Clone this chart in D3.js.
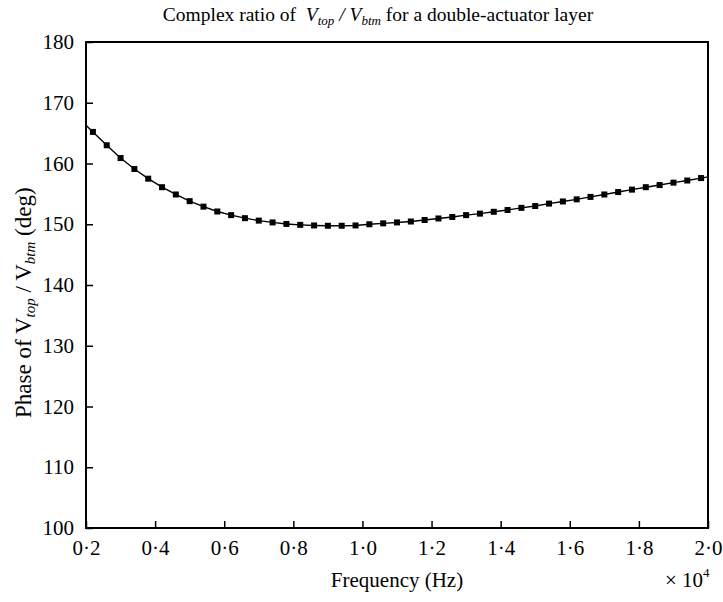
<!DOCTYPE html>
<html>
<head>
<meta charset="utf-8">
<script src="https://cdn.jsdelivr.net/npm/d3@7"></script>
<style>
  html, body { margin: 0; padding: 0; background: #fff; }
  svg text { font-family: "Liberation Serif", "Times New Roman", serif; fill: #000; }
</style>
</head>
<body>
<svg id="chart" width="723" height="602"></svg>
<script>
// Sampled frequencies (Hz) and the phase of Vtop/Vbtm (deg) at each marker
const frequencies = [2200, 2600, 3000, 3400, 3800, 4200, 4600, 5000, 5400, 5800,
  6200, 6600, 7000, 7400, 7800, 8200, 8600, 9000, 9400, 9800,
  10200, 10600, 11000, 11400, 11800, 12200, 12600, 13000, 13400, 13800,
  14200, 14600, 15000, 15400, 15800, 16200, 16600, 17000, 17400, 17800,
  18200, 18600, 19000, 19400, 19800];
const phases = [165.2, 163.0, 160.9, 159.1, 157.5, 156.1, 154.9, 153.8, 152.9, 152.1,
  151.5, 151.0, 150.6, 150.3, 150.05, 149.9, 149.8, 149.75, 149.75, 149.8,
  150.0, 150.15, 150.3, 150.45, 150.7, 150.95, 151.2, 151.5, 151.75, 152.05,
  152.35, 152.7, 153.0, 153.4, 153.75, 154.1, 154.5, 154.9, 155.3, 155.7,
  156.1, 156.45, 156.85, 157.2, 157.6];
// Curve values at the two ends of the frequency range
const edgeFrequencies = [2000, 20000];
const edgePhases = [166.3, 157.8];

const xTicks = [2000, 4000, 6000, 8000, 10000, 12000, 14000, 16000, 18000, 20000];
const yTicks = [100, 110, 120, 130, 140, 150, 160, 170, 180];

const SERIF = "Liberation Serif";
const svg = d3.select("#chart");
const plotL = 86, plotR = 708, plotT = 42, plotB = 528;

const x = d3.scaleLinear().domain([2000, 20000]).range([plotL, plotR]);
const y = d3.scaleLinear().domain([100, 180]).range([plotB, plotT]);

// Frame
svg.append("rect")
  .attr("x", plotL).attr("y", plotT)
  .attr("width", plotR - plotL).attr("height", plotB - plotT)
  .attr("fill", "none").attr("stroke", "#000").attr("stroke-width", 2);

// Bottom axis: inward ticks, labels like 0·2 (x 10^4)
const fmtX = d => (d / 10000).toFixed(1).replace(".", "\u00B7");
const xAxis = d3.axisBottom(x).tickValues(xTicks).tickSize(-7).tickPadding(12).tickFormat(fmtX);
const gx = svg.append("g").attr("transform", `translate(0,${plotB})`).call(xAxis)
  .attr("font-family", SERIF).attr("font-size", 21);
gx.select(".domain").remove();
gx.selectAll(".tick line").attr("stroke", "#000").attr("stroke-width", 1.5);

// Left axis: inward ticks
const yAxis = d3.axisLeft(y).tickValues(yTicks).tickSize(-7).tickPadding(12).tickFormat(d3.format("d"));
const gy = svg.append("g").attr("transform", `translate(${plotL},0)`).call(yAxis)
  .attr("font-family", SERIF).attr("font-size", 21);
gy.select(".domain").remove();
gy.selectAll(".tick line").attr("stroke", "#000").attr("stroke-width", 1.5);

// Curve through all points, including the range ends
const linePts = [[edgeFrequencies[0], edgePhases[0]]]
  .concat(frequencies.map((f, i) => [f, phases[i]]))
  .concat([[edgeFrequencies[1], edgePhases[1]]]);
svg.append("path")
  .datum(linePts)
  .attr("fill", "none").attr("stroke", "#000").attr("stroke-width", 1.4)
  .attr("d", d3.line().x(d => x(d[0])).y(d => y(d[1])));

// Square markers
const ms = 6;
svg.append("g").selectAll("rect")
  .data(frequencies.map((f, i) => [f, phases[i]]))
  .join("rect")
  .attr("x", d => x(d[0]) - ms / 2).attr("y", d => y(d[1]) - ms / 2)
  .attr("width", ms).attr("height", ms).attr("fill", "#000");

// Title
const title = svg.append("text")
  .attr("x", 378).attr("y", 21)
  .attr("text-anchor", "middle").attr("font-size", 19.5).attr("font-family", SERIF);
title.append("tspan").text("Complex ratio of\u00A0\u00A0");
title.append("tspan").attr("font-style", "italic").text("V");
title.append("tspan").attr("font-style", "italic").attr("font-size", 13).attr("dy", 4).text("top");
title.append("tspan").attr("dy", -4).attr("font-style", "italic").text(" / ");
title.append("tspan").attr("font-style", "italic").text("V");
title.append("tspan").attr("font-style", "italic").attr("font-size", 13).attr("dy", 4).text("btm");
title.append("tspan").attr("dy", -4).text(" for a double-actuator layer");

// X axis label and exponent
svg.append("text")
  .attr("x", (plotL + plotR) / 2).attr("y", 587)
  .attr("text-anchor", "middle").attr("font-size", 21).attr("font-family", SERIF)
  .text("Frequency (Hz)");
const expo = svg.append("text").attr("x", 665).attr("y", 587)
  .attr("font-size", 21).attr("font-family", SERIF);
expo.append("tspan").text("\u00D7 10");
expo.append("tspan").attr("font-size", 13).attr("dy", -10).text("4");

// Y axis label, read bottom to top
const yl = svg.append("text")
  .attr("transform", "translate(31,418) rotate(-90)")
  .attr("text-anchor", "start").attr("font-size", 23).attr("font-family", SERIF);
yl.append("tspan").text("Phase of V");
yl.append("tspan").attr("font-style", "italic").attr("font-size", 15).attr("dy", 4).text("top");
yl.append("tspan").attr("dy", -4).text(" / V");
yl.append("tspan").attr("font-style", "italic").attr("font-size", 15).attr("dy", 4).text("btm");
yl.append("tspan").attr("dy", -4).text(" (deg)");
</script>
</body>
</html>
